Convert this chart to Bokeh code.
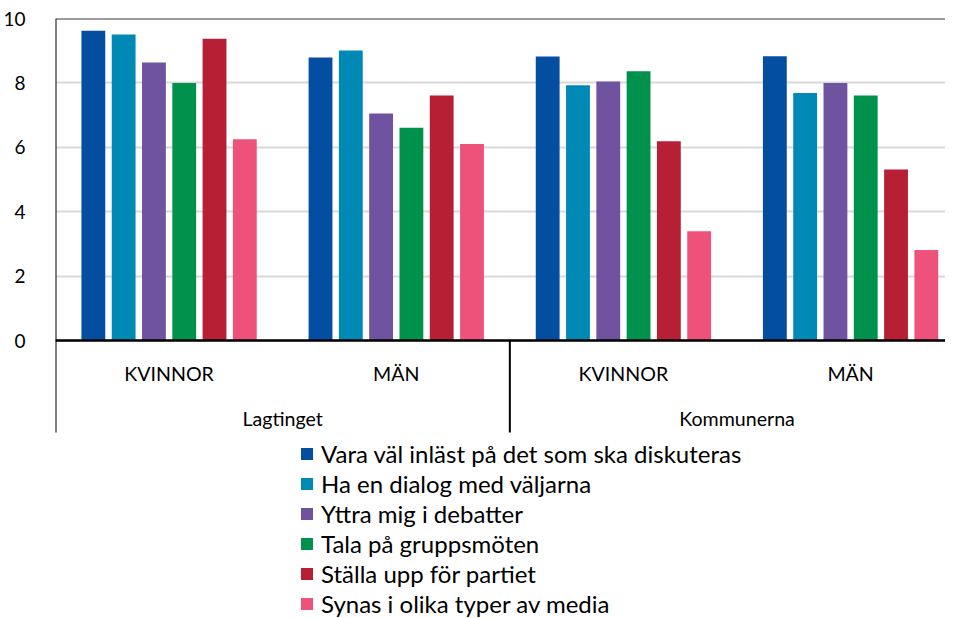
from bokeh.plotting import figure
from bokeh.models import Range1d, FixedTicker, Span, Legend, LegendItem, ColumnDataSource
from bokeh.core.properties import value
from bokeh.embed import file_html
from bokeh.resources import INLINE

# ---- data ----
groups = ["Lagtinget", "Kommunerna"]
subgroups = ["KVINNOR", "MÄN"]
series = [
    "Vara väl inläst på det som ska diskuteras",
    "Ha en dialog med väljarna",
    "Yttra mig i debatter",
    "Tala på gruppsmöten",
    "Ställa upp för partiet",
    "Synas i olika typer av media",
]
# values per series, order: Lagtinget KVINNOR, Lagtinget MÄN, Kommunerna KVINNOR, Kommunerna MÄN
vara_inlast = [9.62, 8.79, 8.82, 8.83]
dialog = [9.50, 9.01, 7.93, 7.69]
debatter = [8.63, 7.05, 8.04, 8.00]
gruppsmoten = [8.00, 6.61, 8.36, 7.61]
stalla_upp = [9.37, 7.61, 6.19, 5.31]
synas = [6.25, 6.10, 3.39, 2.81]
values = [vara_inlast, dialog, debatter, gruppsmoten, stalla_upp, synas]
colors = ["#044EA2", "#0089B4", "#6F52A0", "#00924C", "#B71F35", "#EE527A"]
y_ticks = [0, 2, 4, 6, 8, 10]

FONT = "Lato"
W, H = 945, 618
LEFT, TOP = 49, 18
GROUP_PX = 228.7
PX_PER_UNIT = 32.2
frame_w = W - LEFT
frame_h = H - TOP
x_end = frame_w / GROUP_PX
y_start = 10 - frame_h / PX_PER_UNIT

p = figure(width=W, height=H, x_range=Range1d(0, x_end), y_range=Range1d(y_start, 10),
           output_backend="svg", toolbar_location=None, x_axis_type=None,
           min_border_left=LEFT, min_border_right=0, min_border_top=TOP, min_border_bottom=0)
p.outline_line_color = None
p.background_fill_color = "white"
p.border_fill_color = "white"

# grid
p.xgrid.visible = False
p.ygrid.ticker = FixedTicker(ticks=y_ticks)
p.ygrid.grid_line_color = "#d9d9d9"
p.ygrid.grid_line_width = 2

# y axis
ax = p.yaxis[0]
ax.ticker = FixedTicker(ticks=y_ticks)
ax.axis_line_color = None
ax.major_tick_line_color = None
ax.minor_tick_line_color = None
ax.major_label_standoff = 24
ax.major_label_text_font = FONT
ax.major_label_text_font_size = "19px"
ax.major_label_text_color = "black"

n_series = len(series)
n_cats = len(groups) * len(subgroups)
step = 30.5 / GROUP_PX
bar_w = 24 / GROUP_PX

legend_items = []
for j, (name, vals, col) in enumerate(zip(series, values, colors)):
    xs = [g + 0.5 + (j - (n_series - 1) / 2) * step for g in range(n_cats)]
    src = ColumnDataSource(dict(x=xs, top=vals))
    r = p.vbar(x="x", top="top", width=bar_w, bottom=0, source=src,
               fill_color=col, line_color=None)
    legend_items.append(LegendItem(label=name, renderers=[r]))

# frame lines
p.add_layout(Span(location=10, dimension="width", line_color="#3a3a3a", line_width=2))
p.add_layout(Span(location=0, dimension="width", line_color="black", line_width=2.5))
axis_bottom = -(432 - 340) / PX_PER_UNIT
p.segment(x0=[0, 2], y0=[10, 0], x1=[0, 2], y1=[axis_bottom, axis_bottom],
          line_color="black", line_width=2)

# category labels
sub_x = [g + 0.5 for g in range(n_cats)]
sub_labels = [s for _ in groups for s in subgroups]
p.text(x=sub_x, y=[-(373 - 340) / PX_PER_UNIT] * n_cats, text=sub_labels,
       text_font=value(FONT), text_font_size="19.6px", text_align="center",
       text_baseline="middle", text_color="black")
grp_x = [1 + 2 * i for i in range(len(groups))]
p.text(x=grp_x, y=[-(418 - 340) / PX_PER_UNIT] * len(groups), text=groups,
       text_font=value(FONT), text_font_size="19.6px", text_align="center",
       text_baseline="middle", text_color="black")

legend = Legend(items=legend_items, location=(244, 0), orientation="vertical",
                padding=0, margin=0, spacing=1, label_standoff=7,
                glyph_width=15, glyph_height=15, label_height=20,
                label_text_font=FONT, label_text_font_size="24px",
                label_text_color="black",
                border_line_color=None, background_fill_alpha=0)
p.add_layout(legend, "center")

open("out.html", "w").write(file_html(p, INLINE))
